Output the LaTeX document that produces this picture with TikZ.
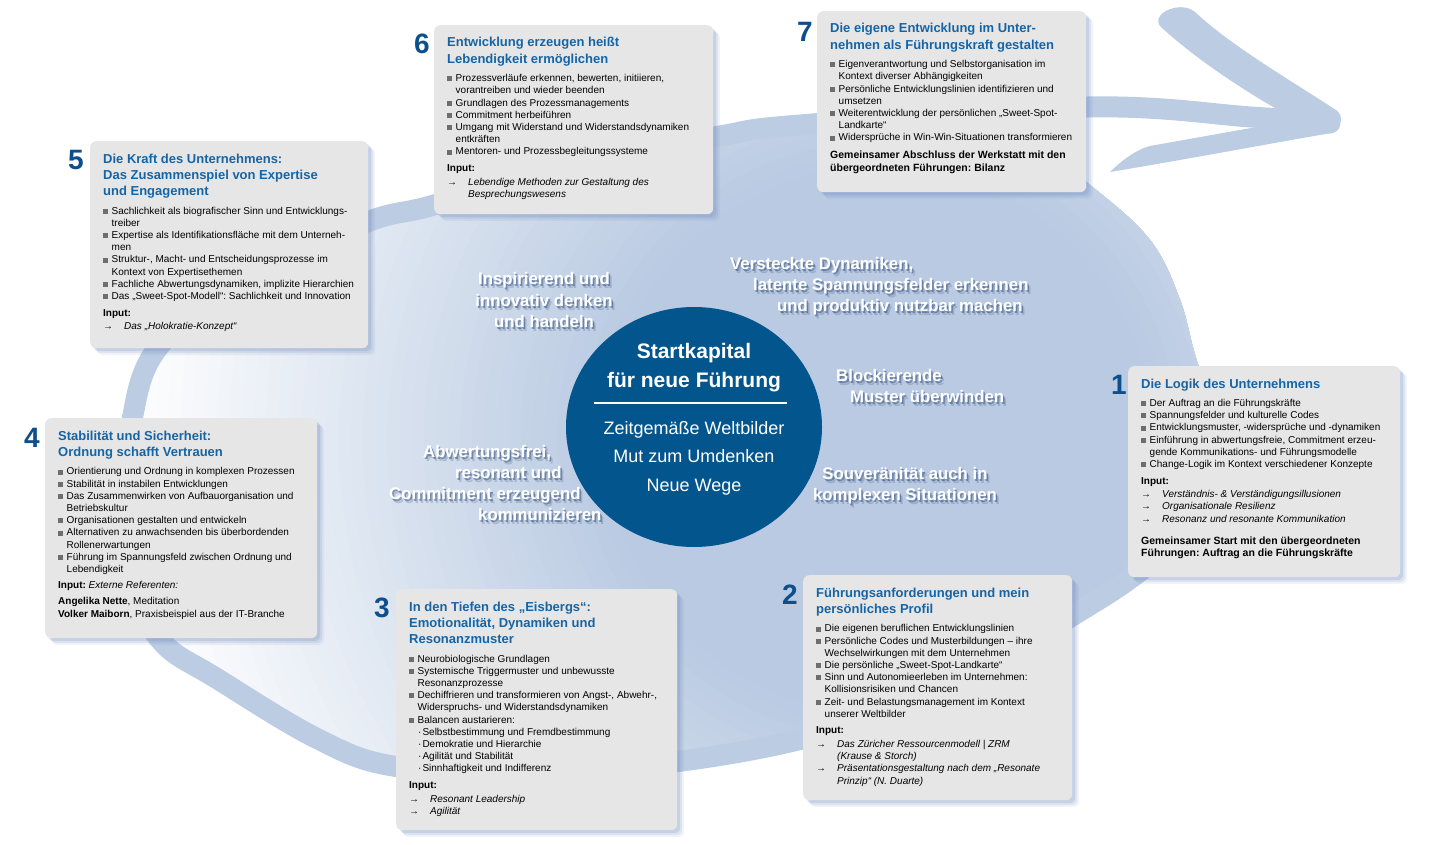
\documentclass[tikz,border=0pt]{standalone}
\usepackage{fontspec}
\setmainfont{Liberation Sans}
\usetikzlibrary{shapes.geometric,shadows}
\frenchspacing

\definecolor{titleblue}{HTML}{1565A6}
\definecolor{numblue}{HTML}{0D4E8C}
\definecolor{kernblue}{HTML}{03568D}
\definecolor{boxgray}{HTML}{E6E6E6}
\definecolor{bulletgray}{HTML}{6E6E6E}
\definecolor{bandblue}{HTML}{BCCCE3}
\definecolor{fillblue}{HTML}{B9CAE2}
\definecolor{shadowblue}{HTML}{6F8CBE}
\definecolor{glowblue}{HTML}{2E4A78}

\newcommand{\modtext}{\raggedright\leftskip=13pt\rightskip=-8pt plus 1fil\fontsize{10}{12.2}\selectfont}
\newcommand{\modhead}[1]{\noindent{\color{titleblue}\bfseries\fontsize{13}{16.3}\selectfont\rule{0pt}{21.8pt}#1\par}\vspace{6.3pt}}
\newcommand{\itm}[1]{\par\noindent\hangindent=8.5pt\hangafter=1\makebox[8.5pt][l]{\textcolor{bulletgray}{\rule[0.3pt]{5pt}{5pt}}}#1}
\newcommand{\subitm}[1]{\par\noindent\hspace*{9pt}·\hspace{1pt}#1}
\newcommand{\inphead}[1][]{\par\vspace{4.3pt}\noindent\textbf{Input:}#1\par\vspace{1.5pt}}
\newcommand{\inp}[1]{\par\noindent\hangindent=21pt\hangafter=1\makebox[21pt][l]{→}\textit{#1}}
\newcommand{\modfoot}[2][5.8pt]{\par\vspace{#1}\noindent{\bfseries\fontsize{10.5}{12.2}\selectfont #2\par}}
\newcommand{\motto}[4]{%
	\node[mottoglow,opacity=0.22,#3] (#1-glow2) at ([shift={(3,4)}]#2) {#4};
	\node[mottoglow,#3] (#1-glow) at ([shift={(1.5,2)}]#2) {#4};
	\node[motto,#3] (#1) at (#2) {#4};}

\begin{document}
\begin{tikzpicture}[x=1pt,y=-1pt,
	modul/.style={fill=boxgray,rounded corners=6pt,inner sep=0pt,anchor=north west,
		general shadow={fill=shadowblue,opacity=0.10,shadow xshift=7pt,shadow yshift=-7pt},
		general shadow={fill=shadowblue,opacity=0.15,shadow xshift=5pt,shadow yshift=-5pt},
		general shadow={fill=shadowblue,opacity=0.22,shadow xshift=3pt,shadow yshift=-3pt}},
	nummer/.style={text=numblue,font=\fontsize{28}{28}\selectfont\bfseries,inner sep=0pt},
	band/.style={draw=bandblue,line width=21pt,line cap=round,line join=round},
	kern/.style={ellipse,fill=kernblue,minimum width=256pt,minimum height=240pt,inner sep=0pt},
	kerntitle/.style={text=white,align=center,font=\fontsize{21}{29}\selectfont\bfseries,inner sep=0pt},
	kernlist/.style={text=white,align=center,font=\fontsize{18}{28.5}\selectfont,inner sep=0pt},
	motto/.style={text=white,font=\fontsize{16.8}{21.3}\selectfont\bfseries,inner sep=0pt},
	mottoglow/.style={motto,text=glowblue,opacity=0.5}]
	\useasboundingbox (0,0) rectangle (1435,845);

	% ring with its shaded inside
	\begin{scope}
		\clip plot[smooth cycle,tension=0.6] coordinates {(1000,118) (800,125) (714,137) (560,165) (434,205) (367,222) (250,275) (160,345) (132,420) (125,520) (140,600) (165,645) (216,678) (316,738) (393,766) (520,772) (650,765) (802,739) (950,690) (1072,616) (1135,575) (1200,520) (1240,460) (1200,370) (1180,300) (1150,240) (1090,185)};
		\foreach \i in {0,...,40} {
			\pgfmathsetmacro\rad{760-\i*12.15}
			\pgfmathsetmacro\mix{\i*2.5}
			\fill[fillblue!\mix!white] (880,440) circle (\rad pt);
		}
	\end{scope}
	\draw[band] plot[smooth,tension=0.6] coordinates {(1240,460) (1200,520) (1135,575) (1072,616) (950,690) (802,739) (650,765) (520,772) (393,766) (316,738) (216,678) (165,645) (140,600) (125,520) (132,420) (160,345) (250,275) (367,222) (434,205) (560,165) (714,137) (800,125) (1087,107) (1251,117) (1330,123)};
	\fill[bandblue] (1162,28) .. controls (1195,58) and (1240,88) .. (1275,108) .. controls (1300,120) and (1320,128) .. (1333,128) .. controls (1342,127) and (1344,116) .. (1336,110) .. controls (1290,80) and (1230,45) .. (1195,12) .. controls (1185,3) and (1165,8) .. (1160,16) .. controls (1157,20) and (1158,25) .. (1162,28) -- cycle;
	\fill[bandblue] (1110,172) .. controls (1120,162) and (1135,150) .. (1150,146) -- (1251,128) .. controls (1290,122) and (1320,118) .. (1336,117) -- (1332,133) .. controls (1300,138) and (1200,157) .. (1110,172) -- cycle;

	% modules
	\node[modul] (m5) at (90,141) {\parbox[c][207pt][t]{278pt}{\modtext
		\modhead{Die Kraft des Unternehmens:\\Das Zusammenspiel von Expertise\\und Engagement}
		\itm{Sachlichkeit als biografischer Sinn und Entwicklungs-\newline treiber}
		\itm{Expertise als Identifikationsfläche mit dem Unterneh-\newline men}
		\itm{Struktur-, Macht- und Entscheidungsprozesse im\newline Kontext von Expertisethemen}
		\itm{Fachliche Abwertungsdynamiken, implizite Hierarchien}
		\itm{Das „Sweet-Spot-Modell“: Sachlichkeit und Innovation}
		\inphead
		\inp{Das „Holokratie-Konzept“}}};
	\node[modul] (m6) at (434,25) {\parbox[c][189pt][t]{279pt}{\modtext
		\modhead{Entwicklung erzeugen heißt\\Lebendigkeit ermöglichen}
		\itm{Prozessverläufe erkennen, bewerten, initiieren,\newline vorantreiben und wieder beenden}
		\itm{Grundlagen des Prozessmanagements}
		\itm{Commitment herbeiführen}
		\itm{Umgang mit Widerstand und Widerstandsdynamiken\newline entkräften}
		\itm{Mentoren- und Prozessbegleitungssysteme}
		\inphead
		\inp{Lebendige Methoden zur Gestaltung des\newline Besprechungswesens}}};
	\node[modul] (m7) at (817,11) {\parbox[c][181pt][t]{269pt}{\modtext
		\modhead{Die eigene Entwicklung im Unter-\\nehmen als Führungskraft gestalten}
		\itm{Eigenverantwortung und Selbstorganisation im\newline Kontext diverser Abhängigkeiten}
		\itm{Persönliche Entwicklungslinien identifizieren und\newline umsetzen}
		\itm{Weiterentwicklung der persönlichen „Sweet-Spot-\newline Landkarte“}
		\itm{Widersprüche in Win-Win-Situationen transformieren}
		\modfoot{Gemeinsamer Abschluss der Werkstatt mit den\\übergeordneten Führungen: Bilanz}}};
	\node[modul] (m1) at (1128,366) {\parbox[c][211pt][t]{272pt}{\modtext
		\modhead{Die Logik des Unternehmens}
		\itm{Der Auftrag an die Führungskräfte}
		\itm{Spannungsfelder und kulturelle Codes}
		\itm{Entwicklungsmuster, -widersprüche und -dynamiken}
		\itm{Einführung in abwertungsfreie, Commitment erzeu-\newline gende Kommunikations- und Führungsmodelle}
		\itm{Change-Logik im Kontext verschiedener Konzepte}
		\inphead
		\inp{Verständnis- \& Verständigungsillusionen}
		\inp{Organisationale Resilienz}
		\inp{Resonanz und resonante Kommunikation}
		\modfoot[9.8pt]{Gemeinsamer Start mit den übergeordneten\\Führungen: Auftrag an die Führungskräfte}}};
	\node[modul] (m2) at (803,575) {\parbox[c][225pt][t]{269pt}{\modtext
		\modhead{Führungsanforderungen und mein\\persönliches Profil}
		\itm{Die eigenen beruflichen Entwicklungslinien}
		\itm{Persönliche Codes und Musterbildungen – ihre\newline Wechselwirkungen mit dem Unternehmen}
		\itm{Die persönliche „Sweet-Spot-Landkarte“}
		\itm{Sinn und Autonomieerleben im Unternehmen:\newline Kollisionsrisiken und Chancen}
		\itm{Zeit- und Belastungsmanagement im Kontext\newline unserer Weltbilder}
		\inphead
		\inp{Das Züricher Ressourcenmodell | ZRM\newline (Krause \& Storch)}
		\inp{Präsentationsgestaltung nach dem „Resonate\newline Prinzip“ (N. Duarte)}}};
	\node[modul] (m3) at (396,589) {\parbox[c][241pt][t]{281pt}{\modtext
		\modhead{In den Tiefen des „Eisbergs“:\\Emotionalität, Dynamiken und\\Resonanzmuster}
		\itm{Neurobiologische Grundlagen}
		\itm{Systemische Triggermuster und unbewusste\newline Resonanzprozesse}
		\itm{Dechiffrieren und transformieren von Angst-, Abwehr-,\newline Widerspruchs- und Widerstandsdynamiken}
		\itm{Balancen austarieren:}
		\subitm{Selbstbestimmung und Fremdbestimmung}
		\subitm{Demokratie und Hierarchie}
		\subitm{Agilität und Stabilität}
		\subitm{Sinnhaftigkeit und Indifferenz}
		\inphead
		\inp{Resonant Leadership}
		\inp{Agilität}}};
	\node[modul] (m4) at (45,418) {\parbox[c][220pt][t]{272pt}{\modtext
		\modhead{Stabilität und Sicherheit:\\Ordnung schafft Vertrauen}
		\itm{Orientierung und Ordnung in komplexen Prozessen}
		\itm{Stabilität in instabilen Entwicklungen}
		\itm{Das Zusammenwirken von Aufbauorganisation und\newline Betriebskultur}
		\itm{Organisationen gestalten und entwickeln}
		\itm{Alternativen zu anwachsenden bis überbordenden\newline Rollenerwartungen}
		\itm{Führung im Spannungsfeld zwischen Ordnung und\newline Lebendigkeit}
		\inphead[ \textit{Externe Referenten:}]
		\par\vspace{2.3pt}\noindent\textbf{Angelika Nette}, Meditation\\
		\textbf{Volker Maiborn}, Praxisbeispiel aus der IT-Branche}};

	% numbers
	\node[nummer] (n1) at (1119,385) {1};
	\node[nummer] (n2) at (790,595) {2};
	\node[nummer] (n3) at (382,608) {3};
	\node[nummer] (n4) at (32,438) {4};
	\node[nummer] (n5) at (76,160) {5};
	\node[nummer] (n6) at (422,44) {6};
	\node[nummer] (n7) at (805,32) {7};

	% centre
	\node[kern] (kern) at (694,427) {};
	\node[kerntitle] (kerntitel) at (694,368) {Startkapital\\für neue Führung};
	\draw[white,line width=2pt] ([shift={(-100,-24)}]kern.center) -- ([shift={(93,-24)}]kern.center);
	\node[kernlist] (kernliste) at (694,458) {Zeitgemäße Weltbilder\\Mut zum Umdenken\\Neue Wege};

	\motto{inspirierend}{544,300}{align=center}{Inspirierend und\\innovativ denken\\und handeln}
	\motto{versteckt}{730,286}{anchor=west,align=left}{Versteckte Dynamiken,\\\hspace*{23pt}latente Spannungsfelder erkennen\\\hspace*{47pt}und produktiv nutzbar machen}
	\motto{blockierend}{836,386}{anchor=west,align=left}{Blockierende\\\hspace*{14pt}Muster überwinden}
	\motto{souveraen}{905,486}{align=center}{Souveränität auch in\\komplexen Situationen}
	\motto{abwertung}{389,483}{anchor=west,align=left}{\hspace*{34pt}Abwertungsfrei,\\\hspace*{66pt}resonant und\\Commitment erzeugend\\\hspace*{89pt}kommunizieren}
\end{tikzpicture}
\end{document}
